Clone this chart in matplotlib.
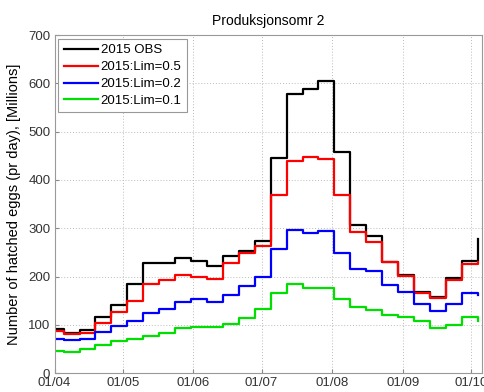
import matplotlib
matplotlib.use("Agg")
import matplotlib.pyplot as plt
import matplotlib.dates as mdates
import numpy as np

plt.rcParams["font.family"] = ["Liberation Sans", "DejaVu Sans"]

# weekly periods (start of each week), values in millions of hatched eggs per day
weeks = np.array([
    "2015-03-29", "2015-04-05", "2015-04-12", "2015-04-19", "2015-04-26",
    "2015-05-03", "2015-05-10", "2015-05-17", "2015-05-24", "2015-05-31",
    "2015-06-07", "2015-06-14", "2015-06-21", "2015-06-28", "2015-07-05",
    "2015-07-12", "2015-07-19", "2015-07-26", "2015-08-02", "2015-08-09",
    "2015-08-16", "2015-08-23", "2015-08-30", "2015-09-06", "2015-09-13",
    "2015-09-20", "2015-09-27", "2015-10-04",
], dtype="datetime64[D]")

obs = [91, 84, 90, 116, 141, 185, 229, 229, 239, 232, 222, 243, 254, 274,
       445, 577, 588, 605, 457, 307, 285, 231, 203, 168, 157, 197, 233, 277]
lim05 = [88, 81, 84, 105, 127, 150, 184, 193, 203, 200, 195, 228, 249, 264,
         368, 440, 447, 443, 368, 293, 272, 230, 201, 167, 155, 193, 226, 230]
lim02 = [70, 68, 70, 85, 98, 109, 124, 133, 148, 154, 147, 161, 181, 200,
         257, 296, 291, 294, 249, 216, 212, 183, 169, 143, 128, 143, 167, 161]
lim01 = [47, 45, 50, 59, 66, 70, 77, 83, 94, 95, 95, 101, 115, 134,
         166, 184, 177, 177, 153, 137, 132, 121, 117, 108, 94, 100, 117, 108]

series = [
    ("2015 OBS", obs, "black"),
    ("2015:Lim=0.5", lim05, "#ff0000"),
    ("2015:Lim=0.2", lim02, "#0000ff"),
    ("2015:Lim=0.1", lim01, "#00e000"),
]

fig = plt.figure(figsize=(4.84, 3.92), dpi=100)
ax = fig.add_axes([54.5 / 484, 1 - 373.3 / 392, (482.3 - 54.5) / 484, (373.3 - 35) / 392])

for label, vals, color in series:
    ax.step(weeks, vals, where="post", color=color, lw=1.6, label=label)

ax.set_xlim(np.datetime64("2015-04-01"), np.datetime64("2015-10-06"))
ax.set_ylim(0, 700)
ax.xaxis.set_major_locator(mdates.MonthLocator())
ax.xaxis.set_major_formatter(mdates.DateFormatter("%d/%m"))
ax.set_yticks(range(0, 701, 100))

ax.grid(True, color="#bbbbbb", linestyle=(0, (1, 2)), linewidth=0.7)
ax.tick_params(direction="in", length=3, labelsize=9.5, colors="#888888",
               labelcolor="#333333", pad=3)
for s in ax.spines.values():
    s.set_color("#999999")

ax.set_title("Produksjonsomr 2", fontsize=10, pad=7)
ax.set_ylabel("Number of hatched eggs (pr day), [Millions]", fontsize=10.5,
              labelpad=5)

leg = ax.legend(loc="upper left", fontsize=9.5, handlelength=2.6,
                handletextpad=0.2, borderaxespad=0.3, labelspacing=0.35,
                fancybox=False, framealpha=1, borderpad=0.4)
leg.get_frame().set_edgecolor("#999999")
leg.get_frame().set_linewidth(0.8)

fig.savefig("out.png", dpi=100)
